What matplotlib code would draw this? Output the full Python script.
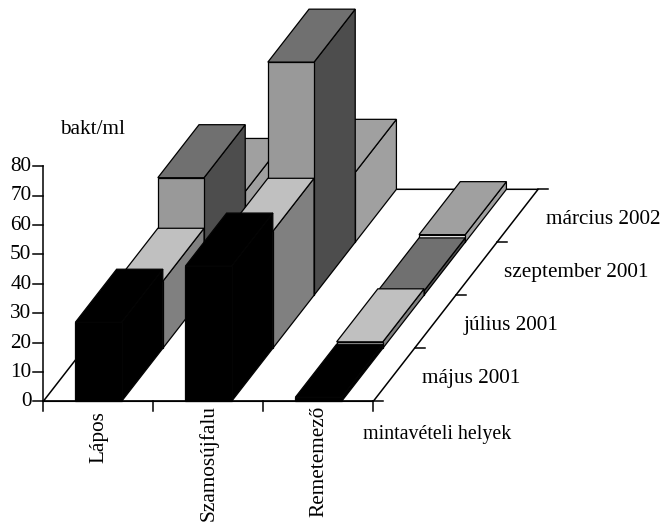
import matplotlib
matplotlib.use('Agg')
import matplotlib.pyplot as plt
from matplotlib.patches import Polygon

plt.rcParams['font.family'] = ['Liberation Serif', 'DejaVu Serif']

# %% data [bakt/ml]
sites = ['Lápos', 'Szamosújfalu', 'Remetemező']
months = ['május 2001', 'július 2001', 'szeptember 2001', 'március 2002']
may_2001 = [26.9, 46.0, 1.4]
jul_2001 = [22.8, 39.8, 2.2]
sep_2001 = [40.0, 79.3, 1.5]
mar_2002 = [17.3, 23.8, 2.6]
y_ticks = [0, 10, 20, 30, 40, 50, 60, 70, 80]

series = [may_2001, jul_2001, sep_2001, mar_2002]

# face colours per series: front, top, side
face_cols = [('#000000', '#000000', '#000000'),
             ('#ffffff', '#c0c0c0', '#808080'),
             ('#999999', '#707070', '#4d4d4d'),
             ('#ffffff', '#a0a0a0', '#a0a0a0')]
edge_cols = ['#040404', '#000000', '#000000', '#000000']

# %% oblique projection of the Excel style 3D chart, in pixels
x0, y0 = 43.3, 401.3     # floor front left corner
cat_w = 110.0            # width of one category along the front axis
dep_x, dep_y = 41.2, -53.0   # shift for one series along the depth axis
unit_y = 2.94            # pixels per unit of the value axis
bar_start = 0.292
bar_width = 0.42
font_size = 15.3


def proj(cat, dep, val=0.):
    """category position, depth position, value -> picture coordinates"""
    return (x0 + cat*cat_w + dep*dep_x, y0 + dep*dep_y - val*unit_y)


fig = plt.figure(figsize=(6.6, 5.22), dpi=100)
ax = fig.add_axes([0, 0, 1, 1])
ax.set_xlim(0, 660)
ax.set_ylim(522, 0)
ax.axis('off')

n_cat, n_ser = len(sites), len(months)

# floor outline
ax.plot(*zip(proj(0, 0), proj(0, n_ser), proj(n_cat, n_ser), proj(n_cat, 0),
             proj(0, 0)), color='k', lw=1.1, zorder=1)

# bars, painted from back to front
z = 2
for s in range(n_ser - 1, -1, -1):
    front, top, side = face_cols[s]
    for c in range(n_cat):
        v = series[s][c]
        c1, c2 = c + bar_start, c + bar_start + bar_width
        faces = [(side, [proj(c2, s), proj(c2, s + 1), proj(c2, s + 1, v), proj(c2, s, v)]),
                 (top, [proj(c1, s, v), proj(c2, s, v), proj(c2, s + 1, v), proj(c1, s + 1, v)]),
                 (front, [proj(c1, s), proj(c2, s), proj(c2, s, v), proj(c1, s, v)])]
        for col, pts in faces:
            ax.add_patch(Polygon(pts, closed=True, facecolor=col, edgecolor=edge_cols[s],
                                 lw=0.9, joinstyle='miter', zorder=z))
            z += 1

# value axis
tick_len = 10
ax.plot(*zip(proj(0, 0), proj(0, 0, y_ticks[-1])), color='k', lw=1.1, zorder=z)
for t in y_ticks:
    px, py = proj(0, 0, t)
    ax.plot([px - tick_len, px], [py, py], color='k', lw=1.1, zorder=z)
    ax.text(px - 12, py + 0.5, str(t), ha='right', va='center', fontsize=font_size)

# category axis
for c in range(n_cat + 1):
    px, py = proj(c, 0)
    ax.plot([px, px], [py, py + tick_len], color='k', lw=1.1, zorder=z)
ax.plot(*zip(proj(0, 0), proj(n_cat, 0)), color='k', lw=1.1, zorder=z)
label_tops = [411, 405, 406]
for c, (name, top_y) in enumerate(zip(sites, label_tops)):
    ax.text(proj(c + 0.505, 0)[0], top_y, name, rotation=90, ha='center', va='top',
            fontsize=font_size)

# depth axis
for s in range(n_ser + 1):
    px, py = proj(n_cat, s)
    ax.plot([px, px + tick_len], [py, py], color='k', lw=1.1, zorder=z)
for s, name in enumerate(months):
    px, py = proj(n_cat, s + 0.5)
    ax.text(px + 28, py + 4, name, ha='left', va='center', fontsize=font_size)

ax.text(60, 130, 'bakt/ml', ha='left', va='center', fontsize=font_size)
ax.text(363, 434, 'mintavételi helyek', ha='left', va='center', fontsize=14.4)

fig.savefig('out.png', dpi=100)
